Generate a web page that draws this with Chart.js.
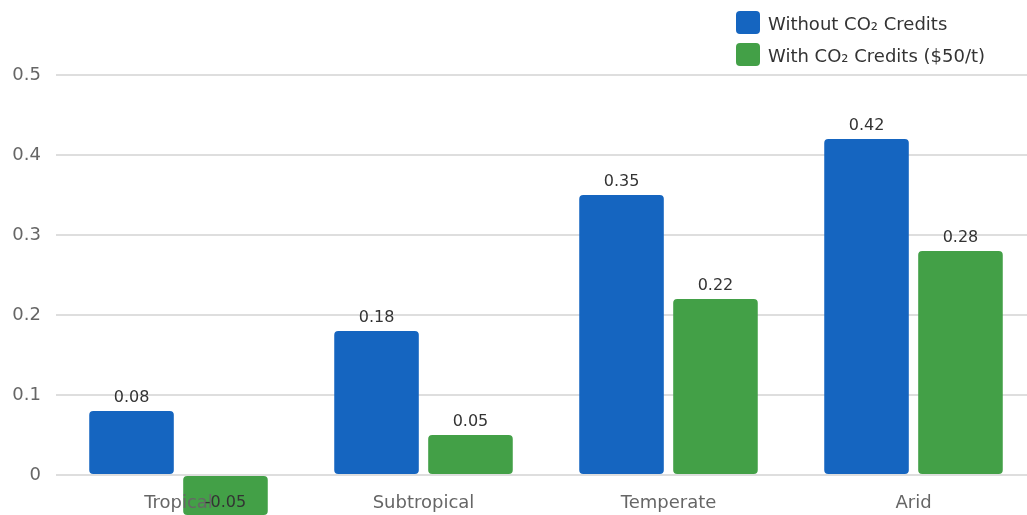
<!DOCTYPE html>
<html>
<head>
<meta charset="utf-8">
<title>Break-even by climate zone</title>
<script src="https://cdn.jsdelivr.net/npm/chart.js@4/dist/chart.umd.min.js"></script>
<style>
  html, body { margin: 0; padding: 0; background: #ffffff; overflow: hidden; }
  #wrap { position: relative; width: 1036px; height: 515px; }
</style>
</head>
<body>
<div id="wrap"><canvas id="chart"></canvas></div>
<script>
// Climate zones along the x axis
const categories = ['Tropical', 'Subtropical', 'Temperate', 'Arid'];

// Series values
const withoutCredits = [0.08, 0.18, 0.35, 0.42];
const withCredits = [-0.05, 0.05, 0.22, 0.28];

// Series names
const seriesNames = ['Without CO\u2082 Credits', 'With CO\u2082 Credits ($50/t)'];

// Y axis tick labels
const yTickLabels = ['0', '0.1', '0.2', '0.3', '0.4', '0.5'];

const FONT = '"DejaVu Sans", Verdana, sans-serif';
const BLUE = '#1565C0';
const GREEN = '#43A047';

// Value labels written above (or below, for negatives) each bar
const valueLabels = {
  id: 'valueLabels',
  afterDraw(chart) {
    const ctx = chart.ctx;
    ctx.save();
    ctx.font = '16px ' + FONT;
    ctx.fillStyle = '#333333';
    ctx.textAlign = 'center';
    ctx.textBaseline = 'middle';
    chart.data.datasets.forEach((ds, di) => {
      const meta = chart.getDatasetMeta(di);
      meta.data.forEach((bar, i) => {
        const v = ds.data[i];
        let y;
        if (v >= 0) {
          y = bar.y - 13;
        } else {
          y = Math.min(bar.y + 14, chart.height - 12);
        }
        ctx.fillText(v.toFixed(2), bar.x, y);
      });
    });
    ctx.restore();
  }
};

// Stacked legend in the top-right corner
const stackedLegend = {
  id: 'stackedLegend',
  afterDraw(chart) {
    const ctx = chart.ctx;
    ctx.save();
    ctx.font = '18px ' + FONT;
    ctx.textAlign = 'left';
    ctx.textBaseline = 'middle';
    chart.data.datasets.forEach((ds, i) => {
      const bx = 736, by = 11 + 32 * i;
      ctx.fillStyle = ds.backgroundColor;
      ctx.beginPath();
      ctx.roundRect(bx, by, 24, 23, 4);
      ctx.fill();
      ctx.fillStyle = '#333333';
      ctx.fillText(ds.label, 768, by + 14);
    });
    ctx.restore();
  }
};

new Chart(document.getElementById('chart'), {
  type: 'bar',
  data: {
    labels: categories,
    datasets: [
      {
        label: seriesNames[0],
        data: withoutCredits,
        backgroundColor: BLUE,
        borderWidth: 0,
        borderRadius: 4,
        borderSkipped: false,
        clip: false
      },
      {
        label: seriesNames[1],
        data: withCredits,
        backgroundColor: GREEN,
        borderWidth: 0,
        borderRadius: 4,
        borderSkipped: false,
        clip: false
      }
    ]
  },
  options: {
    responsive: true,
    maintainAspectRatio: false,
    animation: false,
    layout: { padding: { top: 75, left: 12, right: 0, bottom: 0 } },
    datasets: {
      bar: { categoryPercentage: 0.767, barPercentage: 0.9 }
    },
    plugins: {
      legend: { display: false },
      tooltip: { enabled: false }
    },
    scales: {
      x: {
        grid: { display: false, drawTicks: false },
        border: { display: false },
        ticks: {
          z: 1,
          padding: 18,
          color: '#666666',
          font: { family: FONT, size: 18 }
        },
        afterFit: (scale) => { scale.height = 40; }
      },
      y: {
        min: 0,
        max: 0.5,
        grid: { color: '#dedede', lineWidth: 2, drawTicks: false },
        border: { display: false },
        ticks: {
          stepSize: 0.1,
          padding: 15,
          color: '#666666',
          font: { family: FONT, size: 18 },
          callback: (v, i) => yTickLabels[i]
        },
        afterFit: (scale) => { scale.width = 44; }
      }
    }
  },
  plugins: [valueLabels, stackedLegend]
});
</script>
</body>
</html>
